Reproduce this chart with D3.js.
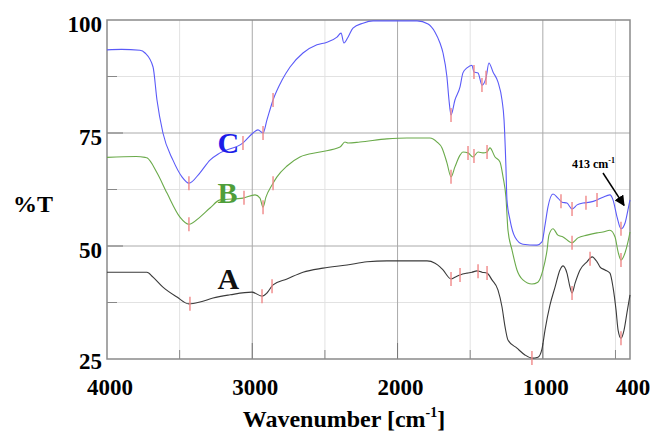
<!DOCTYPE html>
<html><head><meta charset="utf-8">
<script src="https://cdn.jsdelivr.net/npm/d3@7"></script>
</head><body style="margin:0"><svg id="c" width="655" height="431"></svg>
<script>
// ---- data ----
const seriesNames = ["A", "B", "C"];
const wnC = [4000,3900,3773,3738,3683,3656,3615,3546,3484,3436,3360,3291,3222,3064,2995,2961,2926,2899,2857,2795,2740,2651,2555,2486,2417,2389,2369,2341,2307,2238,2169,2004,1866,1790,1742,1708,1687,1660,1646,1632,1605,1570,1550,1522,1488,1474,1446,1419,1391,1371,1343,1309,1281,1267,1254,1247,1226,1192,1137,1040,1006,985,965,930,896,868,834,799,764,723,675,627,586,538,517,489,462,434,414,400];
const tC = [93.4,93.5,93.3,92.7,89.6,82.3,75.0,69.0,65.3,63.9,66.2,69.0,70.6,72.8,75.0,75.7,75.0,77.9,82.3,86.7,89.6,92.7,94.5,95.1,96.2,97.1,94.9,96.2,98.2,99.3,99.8,99.8,99.8,99.1,97.3,94.9,92.7,87.4,82.3,79.0,82.3,85.2,88.3,89.4,90.0,88.5,88.3,85.6,87.2,90.5,88.5,86.3,82.3,77.9,67.5,60.2,55.8,52.0,50.4,50.2,50.9,54.6,58.6,61.5,60.6,59.7,59.5,58.2,59.1,59.5,59.7,60.2,60.8,61.3,60.2,56.4,53.8,55.1,58.0,60.2];
const wnB = [4000,3800,3738,3725,3656,3587,3498,3436,3360,3291,3222,3064,2981,2947,2926,2906,2864,2830,2761,2672,2534,2396,2362,2341,2259,2073,1935,1777,1728,1694,1660,1632,1605,1570,1550,1515,1481,1446,1412,1384,1364,1329,1295,1274,1254,1240,1212,1178,1137,1075,1034,999,971,958,930,896,861,799,758,696,627,586,538,503,482,462,434,414,400];
const tB = [69.6,69.8,69.6,69.5,66.2,61.7,56.4,54.8,56.4,58.4,60.2,60.6,61.3,60.6,58.6,60.8,63.5,65.3,67.7,69.7,70.8,71.9,73.0,72.8,73.0,73.7,73.9,73.9,73.0,71.7,68.4,65.3,67.5,70.1,70.8,70.6,69.7,70.8,70.6,70.8,71.7,69.7,68.6,65.3,60.8,53.5,49.1,44.7,42.5,41.6,42.0,44.7,49.1,52.4,53.8,52.4,52.0,50.7,51.8,52.4,52.9,53.1,53.5,52.0,48.7,46.9,48.5,50.9,53.1];
const wnA = [4000,3725,3683,3615,3518,3436,3360,3270,3153,3002,2933,2899,2857,2761,2651,2513,2348,2210,2073,1935,1797,1742,1708,1687,1632,1605,1570,1522,1488,1453,1419,1384,1350,1309,1281,1260,1240,1178,1123,1075,1034,1006,985,951,916,882,861,834,813,799,778,744,696,661,627,607,572,538,517,496,482,462,441,421,400];
const tA = [44.2,44.2,43.1,40.9,38.7,37.2,37.6,38.5,39.2,39.8,38.9,39.6,41.4,42.7,44.2,45.1,45.8,46.5,46.7,46.7,46.7,46.2,45.4,44.7,42.7,43.1,43.6,44.0,44.2,44.5,44.2,44.0,42.5,40.3,36.5,32.1,29.2,27.4,25.9,25.2,25.4,27.2,31.4,36.9,40.9,44.7,45.6,44.0,40.9,39.6,41.8,44.7,46.5,47.6,46.5,45.4,44.7,44.0,40.9,35.8,31.4,29.6,31.4,35.2,39.2];
const peaksC = [3436,3064,2926,2857,1632,1474,1419,1391,875,799,703,627,462];
const peaksB = [3436,3057,2926,2857,1632,1515,1474,1384,799,462];
const peaksA = [3429,2933,2864,1632,1570,1446,1384,1075,799,675,462];
const xTicks = [4000,3000,2000,1000,400];
const yTicks = [100,75,50,25];
const xMajorGrid = [3000,2000,1000];
const xMinorGrid = [3500,2500,1500,500];
const yMajorGrid = [75,50];
const yMinorGrid = [87.5,62.5,37.5];
const labelPos = {A:[3240,40.5], B:[3240,59.5], C:[3240,70.5]};

// ---- layout ----
const svg = d3.select("#c");
const L=107, T=20, R=630, B=359;
const x = d3.scaleLinear().domain([4000,400]).range([L,R]);
const y = d3.scaleLinear().domain([25,100]).range([B,T]);
const colors = {A:"#3a3a3a", B:"#6aaa4a", C:"#5a5af8"};
const labelColors = {A:"#111", B:"#4f9e3a", C:"#1c1ce8"};
const data = {A:[wnA,tA], B:[wnB,tB], C:[wnC,tC]};
const peaks = {A:peaksA, B:peaksB, C:peaksC};

const g = svg.append("g");
g.selectAll(".xmin").data(xMinorGrid).join("line").attr("x1",d=>x(d)).attr("x2",d=>x(d)).attr("y1",T).attr("y2",B).attr("stroke","#e2e2e2");
g.selectAll(".ymin").data(yMinorGrid).join("line").attr("y1",d=>y(d)).attr("y2",d=>y(d)).attr("x1",L).attr("x2",R).attr("stroke","#e2e2e2");
g.selectAll(".xmaj").data(xMajorGrid).join("line").attr("x1",d=>x(d)).attr("x2",d=>x(d)).attr("y1",T).attr("y2",B).attr("stroke","#aaa");
g.selectAll(".ymaj").data(yMajorGrid).join("line").attr("y1",d=>y(d)).attr("y2",d=>y(d)).attr("x1",L).attr("x2",R).attr("stroke","#aaa");
g.selectAll(".xt1").data(xMinorGrid).join("line").attr("x1",d=>x(d)).attr("x2",d=>x(d)).attr("y1",B-9).attr("y2",B).attr("stroke","#888");
g.selectAll(".xt2").data(xMajorGrid).join("line").attr("x1",d=>x(d)).attr("x2",d=>x(d)).attr("y1",B-16).attr("y2",B).attr("stroke","#777");
g.selectAll(".yt1").data(yMinorGrid).join("line").attr("y1",d=>y(d)).attr("y2",d=>y(d)).attr("x1",L).attr("x2",L+10).attr("stroke","#888");
g.selectAll(".yt2").data(yMajorGrid).join("line").attr("y1",d=>y(d)).attr("y2",d=>y(d)).attr("x1",L).attr("x2",L+16).attr("stroke","#777");
svg.append("rect").attr("x",L).attr("y",T).attr("width",R-L).attr("height",B-T).attr("fill","none").attr("stroke","#8a8a8a").attr("stroke-width",1.5);

const line = d3.line().x(d=>x(d[0])).y(d=>y(d[1])).curve(d3.curveMonotoneX);
function interp(ws, ts, w){
  for(let i=0;i<ws.length-1;i++){
    if(w<=ws[i] && w>=ws[i+1]){ const f=(ws[i]-w)/(ws[i]-ws[i+1]); return ts[i]+f*(ts[i+1]-ts[i]); }
  }
  return ts[ts.length-1];
}
seriesNames.forEach(s=>{
  const [ws,ts]=data[s];
  const pts = ws.map((w,i)=>[w,ts[i]]);
  svg.append("path").datum(pts).attr("d",line).attr("fill","none").attr("stroke",colors[s]).attr("stroke-width",1.1);
});
seriesNames.forEach(s=>{
  const [ws,ts]=data[s];
  svg.append("g").selectAll("line").data(peaks[s]).join("line")
    .attr("x1",d=>x(d)).attr("x2",d=>x(d))
    .attr("y1",d=>y(interp(ws,ts,d))-7).attr("y2",d=>y(interp(ws,ts,d))+7)
    .attr("stroke","#f08888").attr("stroke-width",1.4);
});

const FF = "Liberation Serif";
const texts = [];
yTicks.forEach(v=>texts.push({t:String(v), x:L-5, y:y(v)+(v===25?10:12), a:"end", s:23}));
xTicks.forEach(v=>texts.push({t:String(v), x:x(v)+3, y:395, a:"middle", s:23}));
texts.push({t:"%T", x:13, y:212, a:"start", s:24});
seriesNames.forEach(s=>texts.push({t:s, x:x(labelPos[s][0]), y:y(labelPos[s][1]), a:"start", s:30, c:labelColors[s]}));
svg.selectAll("text.lbl").data(texts).join("text").attr("class","lbl")
  .attr("x",d=>d.x).attr("y",d=>d.y).attr("text-anchor",d=>d.a)
  .attr("font-family",FF).attr("font-weight","bold").attr("font-size",d=>d.s)
  .attr("fill",d=>d.c||"#000").text(d=>d.t);

const xt = svg.append("text").attr("x",344).attr("y",427).attr("text-anchor","middle")
  .attr("font-family",FF).attr("font-weight","bold").attr("font-size",24);
xt.append("tspan").text("Wavenumber [cm");
xt.append("tspan").attr("font-size",14).attr("dy",-10).text("-1");
xt.append("tspan").attr("dy",10).text("]");

const ann = svg.append("text").attr("x",572).attr("y",168)
  .attr("font-family",FF).attr("font-weight","bold").attr("font-size",12);
ann.append("tspan").text("413 cm");
ann.append("tspan").attr("font-size",8).attr("dy",-5).text("-1");
svg.append("defs").append("marker").attr("id","ah").attr("viewBox","0 0 10 10").attr("refX",9).attr("refY",5)
  .attr("markerWidth",7).attr("markerHeight",7).attr("orient","auto")
  .append("path").attr("d","M0,0L10,5L0,10z").attr("fill","#000");
svg.append("line").attr("x1",603).attr("y1",173).attr("x2",x(441)).attr("y2",y(59))
  .attr("stroke","#000").attr("stroke-width",1.5).attr("marker-end","url(#ah)");
</script></body></html>
